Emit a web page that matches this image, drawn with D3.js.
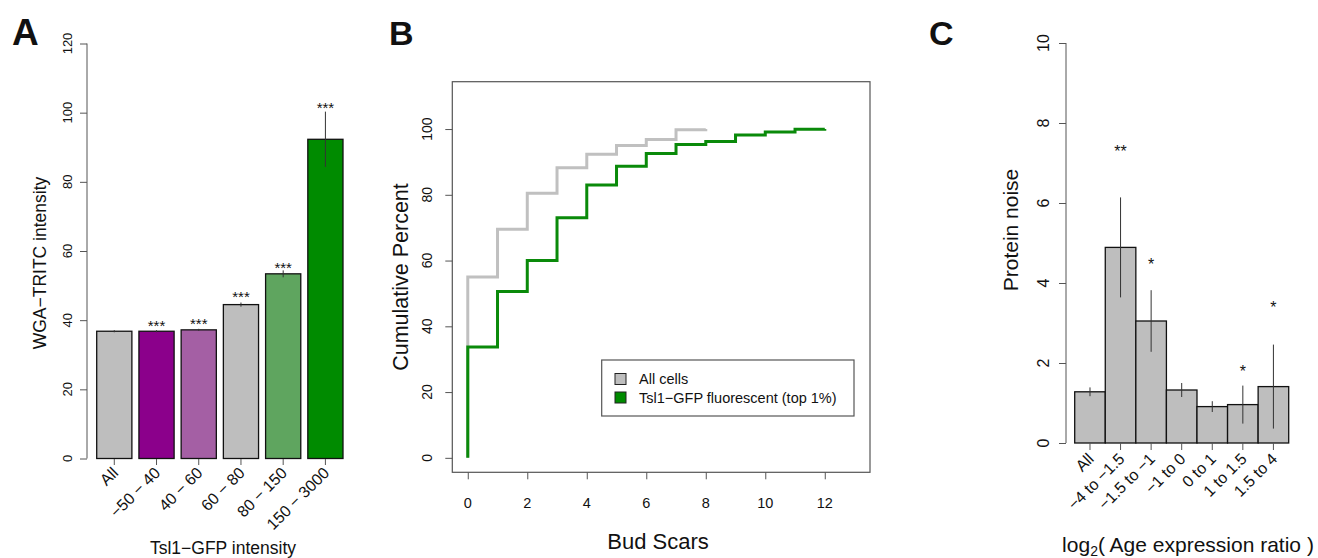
<!DOCTYPE html>
<html>
<head>
<meta charset="utf-8">
<script src="https://cdn.jsdelivr.net/npm/d3@7"></script>
<style>
  html, body { margin: 0; padding: 0; background: #fff; }
  svg { display: block; }
  text { font-family: "Liberation Sans", Arial, Helvetica, sans-serif; fill: #111; }
</style>
</head>
<body>
<svg id="chart" width="1318" height="558"></svg>
<script>
// ---------------- DATA ----------------
// Panel A
const catsA = ["All", "\u221250 \u2212 40", "40 \u2212 60", "60 \u2212 80", "80 \u2212 150", "150 \u2212 3000"];
const valsA = [36.8, 36.8, 37.2, 44.5, 53.4, 92.3];
const errsA = [0.3, 0.3, 0.3, 0.6, 1.0, 8.0];
const colorsA = ["#bebebe", "#8b008b", "#a45fa4", "#bebebe", "#5fa55f", "#008b00"];
const starsA = ["", "***", "***", "***", "***", "***"];
const starYA = [null, 39.2, 39.8, 47.7, 56.1, 102.5];
const ticksA = [0, 20, 40, 60, 80, 100, 120];

// Panel B
const budX_all = [0, 0, 1, 2, 3, 4, 5, 6, 7, 8];
const cum_all = [0, 55, 69.5, 80.5, 88.2, 92.3, 95.0, 96.8, 99.8, 100];
const budX_tsl = [0, 0, 1, 2, 3, 4, 5, 6, 7, 8, 9, 10, 11, 12];
const cum_tsl = [0, 33.7, 50.6, 60.0, 73.0, 83.0, 88.7, 92.6, 95.3, 96.2, 98.2, 99.1, 99.9, 100];
const ticksBx = [0, 2, 4, 6, 8, 10, 12];
const ticksBy = [0, 20, 40, 60, 80, 100];
const legendB = ["All cells", "Tsl1\u2212GFP fluorescent (top 1%)"];
const colorsB = ["#c0c0c0", "#0a8a0a"];

// Panel C
const catsC = ["All", "\u22124 to \u22121.5", "\u22121.5 to \u22121", "\u22121 to 0", "0 to 1", "1 to 1.5", "1.5 to 4"];
const valsC = [1.28, 4.89, 3.05, 1.325, 0.91, 0.96, 1.41];
const errsC = [0.11, 1.25, 0.77, 0.175, 0.135, 0.475, 1.05];
const starsC = ["", "**", "*", "", "", "*", "*"];
const starYC = [null, 7.37, 4.55, null, null, 1.87, 3.475];
const ticksC = [0, 2, 4, 6, 8, 10];

// ---------------- DRAW ----------------
const svg = d3.select("#chart");
const axisCol = "#555";

function panelLabel(txt, x, y, size) {
  svg.append("text").attr("x", x).attr("y", y).attr("font-size", size)
    .attr("font-weight", "bold").attr("fill", "#000").text(txt);
}

// ===== Panel A =====
{
  const g = svg.append("g");
  const y = d3.scaleLinear().domain([0, 120]).range([458.5, 43.5]);
  const x = d3.scaleLinear().domain([0.2, 7.2]).range([96.7, 343]);
  const left = i => 0.2 + 1.2 * i, right = i => 1.2 + 1.2 * i, mid = i => 0.7 + 1.2 * i;

  const yAxis = d3.axisLeft(y).tickValues(ticksA).tickSize(7).tickFormat("");
  const ga = g.append("g").attr("transform", "translate(87,0)").call(yAxis);
  ga.select(".domain").attr("stroke", axisCol).attr("d", `M0,${y(0)}V${y(120)}`);
  ga.selectAll(".tick line").attr("stroke", axisCol);
  g.selectAll(".ytA").data(ticksA).enter().append("text")
    .attr("transform", d => `translate(72,${y(d)}) rotate(-90)`)
    .attr("text-anchor", "middle").attr("font-size", 13).text(d => d);

  g.selectAll(".barA").data(valsA).enter().append("rect")
    .attr("x", (d, i) => x(left(i))).attr("width", (d, i) => x(right(i)) - x(left(i)))
    .attr("y", d => y(d)).attr("height", d => y(0) - y(d))
    .attr("fill", (d, i) => colorsA[i]).attr("stroke", "#111").attr("stroke-width", 1.3);
  g.selectAll(".errA").data(valsA).enter().append("line")
    .attr("x1", (d, i) => x(mid(i))).attr("x2", (d, i) => x(mid(i)))
    .attr("y1", (d, i) => y(d - errsA[i])).attr("y2", (d, i) => y(d + errsA[i]))
    .attr("stroke", "#333").attr("stroke-width", 1);
  g.selectAll(".starA").data(starsA).enter().append("text")
    .attr("x", (d, i) => x(mid(i))).attr("y", (d, i) => starYA[i] == null ? 0 : y(starYA[i]) + 8.5)
    .attr("text-anchor", "middle").attr("font-size", 15).text(d => d);
  g.selectAll(".xtA").data(catsA).enter().append("line")
    .attr("x1", (d, i) => x(mid(i))).attr("x2", (d, i) => x(mid(i)))
    .attr("y1", 459).attr("y2", 465).attr("stroke", axisCol);
  g.selectAll(".xlA").data(catsA).enter().append("text")
    .attr("transform", (d, i) => `translate(${x(mid(i)) + 1},${470}) rotate(-45)`)
    .attr("text-anchor", "end").attr("dominant-baseline", "central")
    .attr("font-size", 16).text(d => d);
  g.append("text").attr("x", 223).attr("y", 553.5).attr("text-anchor", "middle")
    .attr("font-size", 17.5).text("Tsl1\u2212GFP intensity");
  g.append("text").attr("transform", "translate(46,263) rotate(-90)").attr("text-anchor", "middle")
    .attr("font-size", 17.5).text("WGA\u2212TRITC intensity");
  panelLabel("A", 12, 45, 37);
}

// ===== Panel B =====
{
  const g = svg.append("g");
  const x = d3.scaleLinear().domain([-0.52, 13.52]).range([452.3, 870]);
  const y = d3.scaleLinear().domain([-4.4, 114.4]).range([472.3, 81.7]);

  g.append("rect").attr("x", x(-0.52)).attr("y", y(114.4))
    .attr("width", x(13.52) - x(-0.52)).attr("height", y(-4.4) - y(114.4))
    .attr("fill", "none").attr("stroke", axisCol).attr("stroke-width", 1.2);

  const xAxis = d3.axisBottom(x).tickValues(ticksBx).tickSize(7).tickFormat("");
  const gx = g.append("g").attr("transform", `translate(0,${y(-4.4)})`).call(xAxis);
  gx.select(".domain").remove();
  gx.selectAll(".tick line").attr("stroke", axisCol);
  g.selectAll(".xtB").data(ticksBx).enter().append("text")
    .attr("x", d => x(d)).attr("y", 507.5).attr("text-anchor", "middle")
    .attr("font-size", 14.5).text(d => d);

  const yAxis = d3.axisLeft(y).tickValues(ticksBy).tickSize(7).tickFormat("");
  const gy = g.append("g").attr("transform", `translate(${x(-0.52)},0)`).call(yAxis);
  gy.select(".domain").remove();
  gy.selectAll(".tick line").attr("stroke", axisCol);
  g.selectAll(".ytB").data(ticksBy).enter().append("text")
    .attr("transform", d => `translate(432,${y(d)}) rotate(-90)`)
    .attr("text-anchor", "middle").attr("font-size", 14).text(d => d);

  const line = d3.line().curve(d3.curveStepAfter).x(d => x(d[0])).y(d => y(d[1]));
  g.append("path").datum(budX_all.map((b, i) => [b, cum_all[i]]))
    .attr("d", line).attr("fill", "none").attr("stroke", colorsB[0]).attr("stroke-width", 3);
  g.append("path").datum(budX_tsl.map((b, i) => [b, cum_tsl[i]]))
    .attr("d", line).attr("fill", "none").attr("stroke", colorsB[1]).attr("stroke-width", 3);

  g.append("rect").attr("x", 601.7).attr("y", 360).attr("width", 252.3).attr("height", 56)
    .attr("fill", "#fff").attr("stroke", axisCol).attr("stroke-width", 1.2);
  legendB.forEach((t, i) => {
    const cy = 379 + i * 18.5;
    g.append("rect").attr("x", 615).attr("y", cy - 5.5).attr("width", 11).attr("height", 11)
      .attr("fill", i === 0 ? "#bebebe" : "#008b00").attr("stroke", "#222").attr("stroke-width", 1);
    g.append("text").attr("x", 639).attr("y", cy + 5.3).attr("font-size", 14.5).text(t);
  });

  g.append("text").attr("x", 658).attr("y", 549).attr("text-anchor", "middle")
    .attr("font-size", 22).text("Bud Scars");
  g.append("text").attr("transform", "translate(407.5,277) rotate(-90)").attr("text-anchor", "middle")
    .attr("font-size", 21.5).text("Cumulative Percent");
  panelLabel("B", 389, 45, 34);
}

// ===== Panel C =====
{
  const g = svg.append("g");
  const y = d3.scaleLinear().domain([0, 10]).range([443, 43]);
  const x = d3.scaleLinear().domain([0, 7]).range([1074.7, 1288.7]);

  const yAxis = d3.axisLeft(y).tickValues(ticksC).tickSize(7).tickFormat("");
  const gy = g.append("g").attr("transform", "translate(1066,0)").call(yAxis);
  gy.select(".domain").attr("stroke", axisCol).attr("d", `M0,${y(0)}V${y(10)}`);
  gy.selectAll(".tick line").attr("stroke", axisCol);
  g.selectAll(".ytC").data(ticksC).enter().append("text")
    .attr("transform", d => `translate(1048.5,${y(d)}) rotate(-90)`)
    .attr("text-anchor", "middle").attr("font-size", 16).text(d => d);

  g.selectAll(".barC").data(valsC).enter().append("rect")
    .attr("x", (d, i) => x(i)).attr("width", (d, i) => x(i + 1) - x(i))
    .attr("y", d => y(d)).attr("height", d => y(0) - y(d))
    .attr("fill", "#bebebe").attr("stroke", "#111").attr("stroke-width", 1.3);
  g.selectAll(".errC").data(valsC).enter().append("line")
    .attr("x1", (d, i) => x(i + 0.5)).attr("x2", (d, i) => x(i + 0.5))
    .attr("y1", (d, i) => y(d - errsC[i])).attr("y2", (d, i) => y(d + errsC[i]))
    .attr("stroke", "#333").attr("stroke-width", 1);
  g.selectAll(".starC").data(starsC).enter().append("text")
    .attr("x", (d, i) => x(i + 0.5)).attr("y", (d, i) => starYC[i] == null ? 0 : y(starYC[i]) + 9)
    .attr("text-anchor", "middle").attr("font-size", 16).text(d => d);

  g.selectAll(".xtC").data(catsC).enter().append("line")
    .attr("x1", (d, i) => x(i + 0.5)).attr("x2", (d, i) => x(i + 0.5))
    .attr("y1", 443).attr("y2", 450).attr("stroke", axisCol);
  g.selectAll(".xlC").data(catsC).enter().append("text")
    .attr("transform", (d, i) => `translate(${x(i + 0.5) + 1},${456}) rotate(-45)`)
    .attr("text-anchor", "end").attr("dominant-baseline", "central")
    .attr("font-size", 16).text(d => d);

  const t = g.append("text").attr("x", 1188).attr("y", 552).attr("text-anchor", "middle")
    .attr("font-size", 21);
  t.append("tspan").text("log");
  t.append("tspan").attr("font-size", 14).attr("dy", 4).text("2");
  t.append("tspan").attr("dy", -4).text("( Age expression ratio )");
  g.append("text").attr("transform", "translate(1017.5,230) rotate(-90)").attr("text-anchor", "middle")
    .attr("font-size", 21).text("Protein noise");
  panelLabel("C", 929, 45, 34);
}
</script>
</body>
</html>
